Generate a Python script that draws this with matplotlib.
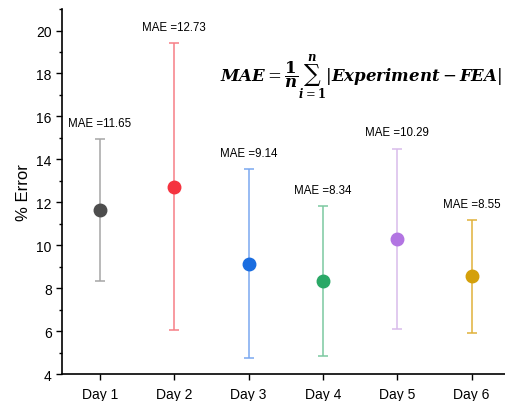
import matplotlib
matplotlib.use("Agg")
import matplotlib.pyplot as plt
from matplotlib.ticker import MultipleLocator

plt.rcParams['font.family'] = ['Liberation Sans', 'DejaVu Sans']
plt.rcParams['mathtext.fontset'] = 'dejavuserif'

days = ["Day 1", "Day 2", "Day 3", "Day 4", "Day 5", "Day 6"]
mae = [11.65, 12.73, 9.14, 8.34, 10.29, 8.55]
upper = [14.93, 19.40, 13.55, 11.83, 14.50, 11.17]
lower = [8.35, 6.06, 4.75, 4.85, 6.08, 5.92]
marker_colors = ["#4d4d4d", "#f5333f", "#1a6de0", "#2aa866", "#b274e2", "#d4a00a"]
bar_colors = ["#a6a6a6", "#f77f86", "#7aa8f0", "#7cc9a0", "#d9bceb", "#e0b23a"]

fig = plt.figure(figsize=(5.05, 4.02), dpi=100)
ax = fig.add_axes([0.123, 0.067, 0.877, 0.908])

x = list(range(1, len(days) + 1))
for i in range(len(days)):
    ax.errorbar(x[i], mae[i], yerr=[[mae[i] - lower[i]], [upper[i] - mae[i]]],
                fmt='none', ecolor=bar_colors[i], elinewidth=1.1, capsize=3.5,
                capthick=1.1, zorder=2)
    ax.plot(x[i], mae[i], 'o', color=marker_colors[i], markersize=9, zorder=3)
    ax.annotate(f"MAE ={mae[i]:.2f}", xy=(x[i], upper[i]), xytext=(0, 7.5),
                textcoords='offset points', ha='center', va='bottom', fontsize=8.3)

ax.set_xlim(0.49, 6.45)
ax.set_ylim(4, 21)
ax.set_xticks(x)
ax.set_xticklabels(days)
ax.yaxis.set_minor_locator(MultipleLocator(1))
ax.set_yticks([4, 6, 8, 10, 12, 14, 16, 18, 20])
ax.tick_params(axis='both', direction='out', labelsize=10, width=1, length=4)
ax.tick_params(axis='x', pad=5)
ax.tick_params(axis='y', which='minor', direction='out', length=2.5, width=1)
ax.spines['top'].set_visible(False)
ax.spines['right'].set_visible(False)
ax.spines['left'].set_linewidth(1.2)
ax.spines['bottom'].set_linewidth(1.2)
ax.set_ylabel("% Error", fontsize=12)

ax.text(0.993, 0.815, r"$\mathbfit{MAE} = \dfrac{\mathbf{1}}{\mathbfit{n}}\sum_{\mathbfit{i}=\mathbf{1}}^{\mathbfit{n}}|\mathbfit{Experiment} - \mathbfit{FEA}|$",
        transform=ax.transAxes, ha='right', va='center', fontsize=12)

fig.savefig("out.png", dpi=100)
